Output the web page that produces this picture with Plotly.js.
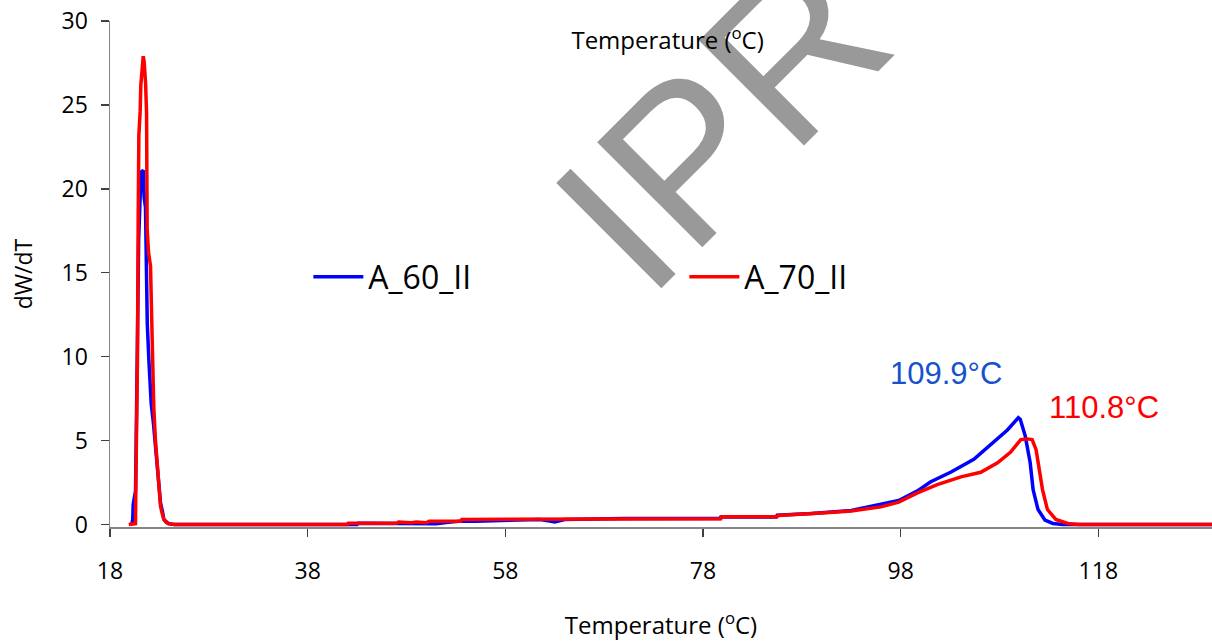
<!DOCTYPE html>
<html>
<head>
<meta charset="utf-8">
<script src="https://cdn.plot.ly/plotly-3.0.1.min.js"></script>
<style>
  html, body { margin: 0; padding: 0; background: #fff; }
  #chart { width: 1212px; height: 641px; }
</style>
</head>
<body>
<div id="chart"></div>
<script>
// Derivative weight curves (dW/dT) against temperature for two samples
const tempA60 = [20.2, 20.3, 20.35, 20.45, 20.58, 20.65, 20.75, 20.9, 21.05, 21.16, 21.36, 21.45, 21.59, 21.7, 21.77, 21.95, 22.17, 22.4, 22.6, 22.8, 22.94, 23.11, 23.3, 23.45, 23.9, 24.5, 30, 43, 43.1, 47, 50, 51, 52, 53.5, 55, 61.5, 62.5, 63, 64, 70, 79.7, 79.8, 85.4, 85.5, 89, 91, 93.0, 97.8, 99.7, 101.0, 103.1, 105.4, 107.4, 108.8, 109.9, 110.1, 110.6, 111.1, 111.4, 111.9, 112.6, 113.4, 114.4, 130];
const dwA60 = [0, 0.3, 1.2, 1.5, 2.0, 5, 12, 17, 19.5, 21.0, 21.1, 19.5, 18.9, 15.5, 12.0, 9.6, 7.2, 6.0, 4.66, 3.5, 2.48, 1.29, 0.8, 0.3, 0.05, 0, 0, 0, 0.07, 0.07, 0.1, 0.05, 0.12, 0.2, 0.2, 0.3, 0.2, 0.15, 0.3, 0.35, 0.35, 0.45, 0.45, 0.55, 0.66, 0.76, 0.84, 1.43, 2.0, 2.53, 3.13, 3.88, 4.87, 5.63, 6.36, 6.27, 5.28, 3.69, 2.08, 0.89, 0.26, 0.06, 0, 0];

const tempA70 = [19.9, 20.5, 20.58, 20.62, 20.7, 20.78, 20.85, 20.92, 21.05, 21.12, 21.25, 21.36, 21.45, 21.6, 21.7, 21.72, 21.76, 21.9, 22.1, 22.27, 22.43, 22.6, 22.72, 22.95, 23.11, 23.3, 23.45, 23.7, 23.95, 24.5, 30, 42, 42.1, 45, 47, 47.2, 48.5, 49, 50, 50.3, 53.5, 53.6, 59, 61.2, 61.3, 70, 79.8, 79.9, 85.5, 85.6, 89.2, 91.2, 93.0, 96.0, 97.8, 99.7, 101.7, 104.1, 106.1, 107.8, 109.1, 110.15, 110.8, 111.3, 111.7, 112.0, 112.35, 112.85, 113.7, 114.9, 116, 130];
const dwA70 = [0, 0, 0.05, 2.5, 5.5, 10, 18, 23.2, 24.6, 26.2, 27.1, 27.9, 27.6, 26.3, 24.5, 21, 17.6, 16.2, 15.4, 11.0, 7.0, 5.0, 4.1, 2.1, 1.1, 0.6, 0.3, 0.12, 0.05, 0, 0, 0, 0.08, 0.08, 0.08, 0.15, 0.1, 0.15, 0.1, 0.2, 0.2, 0.3, 0.3, 0.3, 0.34, 0.34, 0.34, 0.46, 0.46, 0.54, 0.64, 0.73, 0.8, 1.05, 1.33, 1.88, 2.38, 2.84, 3.11, 3.67, 4.3, 5.06, 5.1, 5.06, 4.46, 3.47, 2.08, 0.89, 0.3, 0.06, 0, 0];

// Peak temperatures marked on the high-temperature peaks
const peakA60 = { temp: 109.9, label: '109.9°C' };
const peakA70 = { temp: 110.8, label: '110.8°C' };

const seriesNames = ['A_60_II', 'A_70_II'];
const xTickStart = 18;
const xTickStep = 20;
const yTickStep = 5;

const traces = [
  { x: tempA60, y: dwA60, name: seriesNames[0], type: 'scatter', mode: 'lines',
    line: { color: '#0000FF', width: 3.5 } },
  { x: tempA70, y: dwA70, name: seriesNames[1], type: 'scatter', mode: 'lines',
    line: { color: '#FF0000', width: 3.5 } }
];

const font = 'Open Sans, sans-serif';

const layout = {
  width: 1212, height: 641,
  margin: { l: 110, r: 0, t: 21, b: 114 },
  paper_bgcolor: '#ffffff', plot_bgcolor: '#ffffff',
  font: { family: font, color: '#000' },
  showlegend: true,
  legend: {
    orientation: 'h', x: 0.18, xanchor: 'left', y: 0.494, yanchor: 'middle',
    font: { family: font, size: 32, color: '#000' },
    entrywidth: 311, entrywidthmode: 'pixels', itemwidth: 50,
    bgcolor: 'rgba(0,0,0,0)', borderwidth: 0
  },
  title: {
    text: 'Temperature (<sup>o</sup>C)',
    font: { family: font, size: 24, color: '#000' },
    x: 0.506, xref: 'paper', xanchor: 'center',
    y: 1 - 41 / 641, yref: 'container', yanchor: 'middle'
  },
  xaxis: {
    range: [18, 129.5], tick0: xTickStart, dtick: xTickStep, tickmode: 'linear',
    showgrid: false, zeroline: false,
    showline: true, linecolor: '#868686', linewidth: 1.5,
    ticks: 'outside', ticklen: 8, tickwidth: 1.5, tickcolor: '#404040',
    ticklabelstandoff: 15,
    tickfont: { family: font, size: 23, color: '#000' },
    title: { text: 'Temperature (<sup>o</sup>C)', font: { family: font, size: 24, color: '#000' }, standoff: 40 }
  },
  yaxis: {
    range: [-0.15, 30], dtick: yTickStep, tick0: 0, tickmode: 'linear',
    showgrid: false, zeroline: false,
    showline: true, linecolor: '#868686', linewidth: 1.5,
    ticks: 'outside', ticklen: 8, tickwidth: 1.5, tickcolor: '#404040',
    ticklabelstandoff: 8,
    tickfont: { family: font, size: 23, color: '#000' },
    title: { text: 'dW/dT', font: { family: font, size: 23, color: '#000' }, standoff: 22 }
  },
  shapes: [
    // watermark, kept beneath the curves
    { type: 'rect', xref: 'paper', yref: 'paper', layer: 'below',
      x0: 0.5321, x1: 0.5521, y0: 0.8186, y1: 0.8386,
      line: { width: 0 }, fillcolor: 'rgba(0,0,0,0)',
      label: { text: 'IPR', textangle: -45, textposition: 'middle center',
               font: { family: 'Liberation Sans, Arial, sans-serif', size: 216, weight: 380, color: '#999999' } } }
  ],
  annotations: [
    { x: 102.6, y: 9.0, xref: 'x', yref: 'y', text: peakA60.label, showarrow: false,
      xanchor: 'center', yanchor: 'middle',
      font: { family: 'Liberation Sans, Arial, sans-serif', size: 31, color: '#1652CC' } },
    { x: 118.6, y: 6.96, xref: 'x', yref: 'y', text: peakA70.label, showarrow: false,
      xanchor: 'center', yanchor: 'middle',
      font: { family: 'Liberation Sans, Arial, sans-serif', size: 31, color: '#FF0000' } }
  ]
};

Plotly.newPlot('chart', traces, layout, { displayModeBar: false, staticPlot: true });
</script>
</body>
</html>
